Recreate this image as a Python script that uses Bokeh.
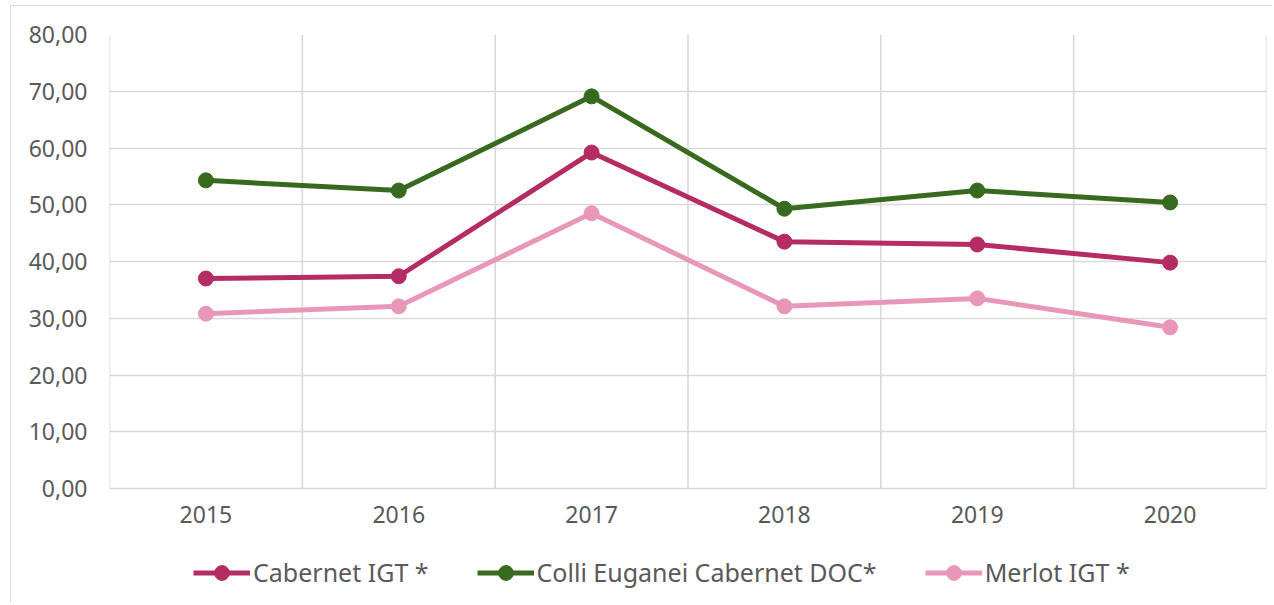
from bokeh.plotting import figure
from bokeh.models import Range1d, FixedTicker, Legend, LegendItem
from bokeh.core.properties import value
from bokeh.embed import file_html
from bokeh.resources import INLINE

years = ["2015", "2016", "2017", "2018", "2019", "2020"]
cabernet_igt = [37.0, 37.4, 59.2, 43.5, 43.0, 39.8]
colli_euganei_cabernet_doc = [54.3, 52.5, 69.1, 49.3, 52.5, 50.4]
merlot_igt = [30.8, 32.1, 48.5, 32.1, 33.5, 28.4]
series_names = ["Cabernet IGT *", "Colli Euganei Cabernet DOC*", "Merlot IGT *"]
series_colors = ["#B52B63", "#376A1E", "#E897B8"]
y_ticks = [0, 10, 20, 30, 40, 50, 60, 70, 80]
y_tick_labels = ["0,00", "10,00", "20,00", "30,00", "40,00", "50,00", "60,00", "70,00", "80,00"]

FONT = "Noto Sans"
TXT = "#595959"
GRID = "#D9D9D9"

x_pos = [i + 0.5 for i in range(len(years))]
x_bounds = list(range(len(years) + 1))

# frame spans from the 80 line down to the bottom of the canvas; room below 0 holds labels + legend
px_per_unit = 454 / (y_ticks[-1] - y_ticks[0])
y_start = -116 / px_per_unit

p = figure(width=1262, height=598, output_backend="svg", toolbar_location=None,
           x_range=Range1d(0, len(years)), y_range=Range1d(y_start, y_ticks[-1]),
           x_axis_location=None,
           min_border_left=98, min_border_right=7, min_border_top=28, min_border_bottom=0,
           styles={"margin-left": "10px", "margin-top": "5px",
                   "border-top": "1px solid #D9D9D9", "border-left": "1px solid #D9D9D9"})
p.outline_line_color = None
p.background_fill_color = "white"
p.border_fill_color = "white"

# y axis
p.yaxis.ticker = FixedTicker(ticks=y_ticks)
p.yaxis.major_label_overrides = {t: l for t, l in zip(y_ticks, y_tick_labels)}
p.yaxis.axis_line_color = None
p.yaxis.major_tick_line_color = None
p.yaxis.minor_tick_line_color = None
p.yaxis.major_tick_out = 0
p.yaxis.major_tick_in = 0
p.yaxis.major_label_text_font = FONT
p.yaxis.major_label_text_font_size = "23px"
p.yaxis.major_label_text_color = TXT
p.yaxis.major_label_standoff = 22

# grids
p.xgrid.visible = False
p.ygrid.ticker = FixedTicker(ticks=y_ticks)
p.ygrid.grid_line_color = GRID
p.ygrid.grid_line_width = 1.6
p.segment(x0=x_bounds, y0=[y_ticks[0]] * len(x_bounds), x1=x_bounds, y1=[y_ticks[-1]] * len(x_bounds),
          line_color=GRID, line_width=1.6)

# category labels under the 0 line
p.text(x=x_pos, y=[y_ticks[0]] * len(years), text=years, text_align="center", text_baseline="top",
       y_offset=17, text_font=value(FONT), text_font_size="23px", text_color=TXT)

series = [cabernet_igt, colli_euganei_cabernet_doc, merlot_igt]
items = []
for name, vals, col in zip(series_names, series, series_colors):
    lr = p.line(x_pos, vals, line_color=col, line_width=5)
    sr = p.scatter(x_pos, vals, size=15, fill_color=col, line_color=col, marker="circle")
    items.append(LegendItem(label=name, renderers=[lr, sr]))

leg = Legend(items=items, location=(84, 13.5), orientation="horizontal",
             glyph_width=57, glyph_height=37, label_standoff=3, spacing=48,
             padding=0, margin=0, border_line_color=None,
             background_fill_alpha=0, label_text_font=FONT,
             label_text_font_size="25px", label_text_color=TXT)
p.add_layout(leg, "center")

open("out.html", "w").write(file_html(p, INLINE))
